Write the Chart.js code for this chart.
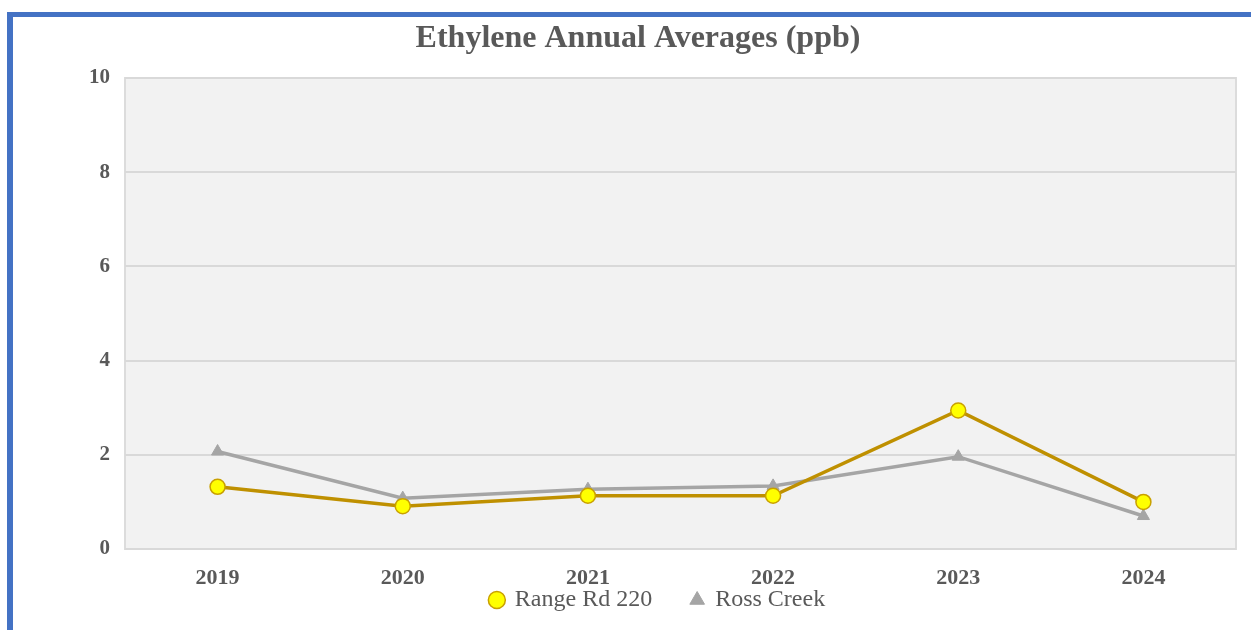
<!DOCTYPE html>
<html>
<head>
<meta charset="utf-8">
<script src="https://cdn.jsdelivr.net/npm/chart.js@4.4.1/dist/chart.umd.min.js"></script>
<style>
  html, body { margin: 0; padding: 0; background: #ffffff; }
  #wrap { position: relative; width: 1251px; height: 630px; overflow: hidden; }
  #frame { position: absolute; left: 7px; top: 12px; width: 1300px; height: 700px;
           border-left: 6px solid #4472c4; border-top: 5px solid #4472c4; box-sizing: border-box; }
  canvas { position: absolute; left: 0; top: 0; }
</style>
</head>
<body>
<div id="wrap">
  <div id="frame"></div>
  <canvas id="c" width="1251" height="630"></canvas>
</div>
<script>
const categories = ['2019', '2020', '2021', '2022', '2023', '2024'];
const rangeRd220 = [1.32, 0.91, 1.13, 1.13, 2.94, 1.00];
const rossCreek = [2.07, 1.08, 1.27, 1.34, 1.96, 0.70];
const yTicks = [0, 2, 4, 6, 8, 10];
const chartTitle = 'Ethylene Annual Averages (ppb)';

const plotBg = {
  id: 'plotBg',
  beforeDraw(chart) {
    const { ctx, chartArea: a } = chart;
    ctx.save();
    ctx.fillStyle = '#f2f2f2';
    ctx.fillRect(a.left, a.top, a.right - a.left, a.bottom - a.top);
    ctx.strokeStyle = '#dcdcdc';
    ctx.lineWidth = 2;
    ctx.strokeRect(a.left, a.top, a.right - a.left, a.bottom - a.top);
    ctx.restore();
  }
};

// Title centred a little left of the legend; legend rows start right under the plot
// so the large item gap (labels.padding) does not push them down.
const blockTweak = {
  id: 'blockTweak',
  afterLayout(chart) {
    if (chart.titleBlock) {
      chart.titleBlock.left -= 40;
    }
    const lg = chart.legend;
    if (lg) {
      lg.top = chart.chartArea.bottom;
      lg.bottom = chart.height;
      lg.height = lg.bottom - lg.top;
    }
  }
};

new Chart(document.getElementById('c'), {
  type: 'line',
  data: {
    labels: categories,
    datasets: [
      {
        label: 'Range Rd 220',
        data: rangeRd220,
        borderColor: '#bf9000',
        backgroundColor: '#ffff00',
        borderWidth: 3.5,
        pointStyle: 'circle',
        pointRadius: 7.5,
        pointBackgroundColor: '#ffff00',
        pointBorderColor: '#c9a000',
        pointBorderWidth: 1.5,
        tension: 0,
        fill: false
      },
      {
        label: 'Ross Creek',
        data: rossCreek,
        borderColor: '#a5a5a5',
        backgroundColor: '#a5a5a5',
        borderWidth: 3.5,
        pointStyle: 'triangle',
        pointRadius: 7,
        pointBackgroundColor: '#a5a5a5',
        pointBorderColor: '#a5a5a5',
        pointBorderWidth: 1,
        tension: 0,
        fill: false
      }
    ]
  },
  options: {
    responsive: false,
    animation: false,
    layout: { padding: { left: 80, right: 15, top: 0, bottom: 0 } },
    plugins: {
      title: {
        display: true,
        text: chartTitle,
        color: '#595959',
        font: { family: 'Liberation Serif', size: 32, weight: 'bold' },
        padding: { top: 20, bottom: 19.6 }
      },
      legend: {
        position: 'bottom',
        maxHeight: 31,
        labels: {
          color: '#595959',
          font: { family: 'Liberation Serif', size: 24 },
          usePointStyle: true,
          boxWidth: 12,
          boxHeight: 12,
          padding: 39
        }
      },
      tooltip: { enabled: false }
    },
    scales: {
      x: {
        type: 'category',
        offset: true,
        afterFit(scale) { scale.height = 50; },
        grid: { display: false, drawTicks: false },
        border: { display: false },
        ticks: {
          color: '#595959',
          font: { family: 'Liberation Serif', size: 22, weight: 'bold' },
          padding: 16,
          maxRotation: 0
        }
      },
      y: {
        min: 0,
        max: 10,
        afterBuildTicks(scale) { scale.ticks = yTicks.map(v => ({ value: v })); },
        afterFit(scale) { scale.width = 45; },
        grid: { color: '#d9d9d9', lineWidth: 2, drawTicks: false },
        border: { display: false },
        ticks: {
          color: '#595959',
          font: { family: 'Liberation Serif', size: 21, weight: 'bold' },
          padding: 15
        }
      }
    }
  },
  plugins: [plotBg, blockTweak]
});
</script>
</body>
</html>
